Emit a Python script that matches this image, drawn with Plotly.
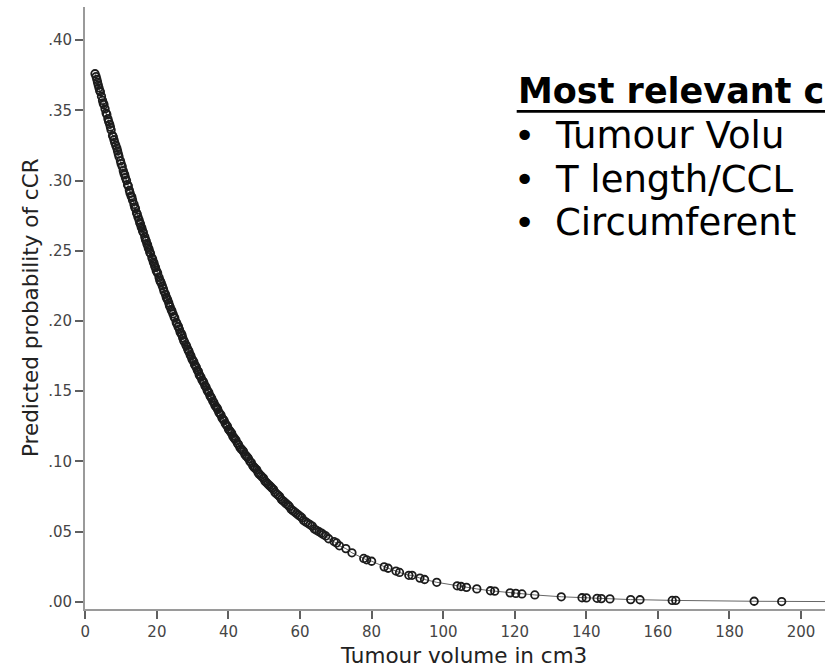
import plotly.graph_objects as go

# ---- data ----
volume = [2.7, 3.0, 3.4, 3.8, 4.2, 4.5, 5.0, 5.5, 5.8, 6.3, 6.8, 7.2, 7.6, 8.0, 8.5, 9.0, 9.4, 9.8,
          10.3, 10.6, 11.0, 11.5, 12.0, 12.3, 12.8, 13.2, 13.6, 14.0, 14.3, 14.7, 15.0, 15.4, 15.8,
          16.2, 16.6, 17.0, 17.4, 17.8, 18.2, 18.6, 19.0, 19.4, 19.8, 20.2, 20.6, 21.0, 21.5, 22.0,
          22.4, 22.8, 23.3, 23.7, 24.0, 24.5, 25.0, 25.4, 25.9, 26.3, 26.8, 27.2, 27.7, 28.1, 28.6,
          29.0, 29.5, 30.0, 30.5, 31.0, 31.6, 32.0, 32.6, 33.1, 33.7, 34.2, 34.8, 35.3, 35.9, 36.5,
          37.0, 37.6, 38.2, 38.8, 39.4, 40.0, 40.6, 41.2, 41.8, 42.5, 43.2, 43.9, 44.6, 45.3, 46.0,
          46.8, 47.5, 48.3, 49.0, 49.8, 50.6, 51.4, 52.2, 53.0, 53.9, 54.8, 55.7, 56.6, 57.5, 58.5,
          59.5, 60.5, 61.6, 62.8, 64.0, 65.3, 66.5, 68.0, 69.5, 71.0, 72.8, 74.5, 77.8, 78.6, 80.0,
          83.5, 84.6, 86.8, 87.8, 90.4, 91.3, 93.5, 94.8, 98.2, 103.9, 105.0, 106.5, 109.4, 113.2,
          114.4, 118.7, 120.3, 122.0, 125.6, 133.0, 138.8, 140.0, 143.0, 144.2, 146.6, 152.4, 155.0,
          164.0, 165.0, 186.9, 194.6, 215.0]
probability = [0.376, 0.374, 0.370, 0.366, 0.363, 0.360, 0.355, 0.351, 0.348, 0.344, 0.340, 0.336,
               0.332, 0.329, 0.325, 0.321, 0.317, 0.314, 0.310, 0.307, 0.304, 0.300, 0.296, 0.293,
               0.289, 0.286, 0.283, 0.280, 0.277, 0.274, 0.272, 0.269, 0.266, 0.263, 0.260, 0.257,
               0.254, 0.251, 0.248, 0.245, 0.242, 0.239, 0.236, 0.234, 0.231, 0.228, 0.225, 0.221,
               0.219, 0.216, 0.213, 0.210, 0.208, 0.205, 0.202, 0.199, 0.196, 0.194, 0.191, 0.188,
               0.185, 0.183, 0.180, 0.178, 0.175, 0.172, 0.169, 0.167, 0.164, 0.161, 0.158, 0.156,
               0.153, 0.150, 0.147, 0.145, 0.142, 0.139, 0.137, 0.134, 0.131, 0.129, 0.126, 0.123,
               0.121, 0.118, 0.116, 0.113, 0.110, 0.108, 0.105, 0.103, 0.100, 0.097, 0.095, 0.092,
               0.090, 0.088, 0.085, 0.083, 0.081, 0.078, 0.076, 0.073, 0.071, 0.069, 0.066, 0.064,
               0.062, 0.060, 0.057, 0.055, 0.052, 0.050, 0.048, 0.045, 0.043, 0.040, 0.038, 0.035,
               0.031, 0.030, 0.029, 0.025, 0.024, 0.022, 0.021, 0.019, 0.019, 0.017, 0.016, 0.014,
               0.0115, 0.011, 0.0104, 0.0093, 0.0080, 0.0077, 0.0065, 0.0061, 0.0057, 0.0050,
               0.0037, 0.0030, 0.0029, 0.0026, 0.0024, 0.0022, 0.0017, 0.0016, 0.0011, 0.0011,
               0.0005, 0.0003, 0.0002]

# further patients in the dense part of the curve
volume_extra = [3.2, 3.6, 4.0, 4.8, 5.2, 6.0, 6.5, 7.0, 7.8, 8.2, 8.8, 9.2, 10.0, 10.8, 11.2, 11.8,
                12.5, 13.0, 13.8, 14.5, 15.2, 15.6, 16.0, 16.8, 17.2, 17.6, 18.0, 18.8, 19.2, 19.6,
                20.0, 20.8, 21.2, 21.8, 22.6, 23.0, 23.5, 24.2, 24.8, 25.6, 26.0, 26.5, 27.0, 27.5,
                28.3, 28.8, 29.3, 29.8, 30.3, 30.8, 31.3, 31.8, 32.3, 32.9, 33.4, 34.0, 34.5, 35.0,
                35.6, 36.2, 36.8, 37.3, 37.9, 38.5, 39.1, 39.7, 40.3, 40.9, 41.5, 42.1, 42.8, 43.5,
                44.2, 44.9, 45.6, 46.4, 47.1, 47.9, 48.6, 49.4, 50.2, 51.0, 51.8, 52.6, 53.4, 54.3,
                55.2, 56.1, 57.0, 58.0, 59.0, 60.0, 61.0, 62.2, 63.4, 64.6, 66.0, 67.2, 70.2]
probability_extra = [0.372, 0.368, 0.364, 0.357, 0.354, 0.347, 0.342, 0.338, 0.331, 0.327, 0.323,
                     0.319, 0.312, 0.305, 0.302, 0.297, 0.291, 0.288, 0.281, 0.276, 0.270, 0.267,
                     0.264, 0.258, 0.255, 0.252, 0.249, 0.244, 0.241, 0.238, 0.235, 0.229, 0.227,
                     0.223, 0.217, 0.215, 0.211, 0.207, 0.203, 0.198, 0.196, 0.192, 0.190, 0.186,
                     0.182, 0.179, 0.176, 0.173, 0.171, 0.168, 0.165, 0.162, 0.160, 0.157, 0.154,
                     0.151, 0.149, 0.146, 0.143, 0.140, 0.138, 0.135, 0.133, 0.130, 0.127, 0.125,
                     0.122, 0.120, 0.117, 0.115, 0.112, 0.109, 0.107, 0.104, 0.102, 0.099, 0.096,
                     0.094, 0.091, 0.089, 0.086, 0.084, 0.082, 0.080, 0.077, 0.075, 0.072, 0.070,
                     0.068, 0.065, 0.063, 0.061, 0.058, 0.056, 0.054, 0.051, 0.049, 0.047, 0.042]

x_ticks = [0, 20, 40, 60, 80, 100, 120, 140, 160, 180, 200]
y_ticks = [0.00, 0.05, 0.10, 0.15, 0.20, 0.25, 0.30, 0.35, 0.40]
y_tick_text = [".00", ".05", ".10", ".15", ".20", ".25", ".30", ".35", ".40"]

x_title = "Tumour volume in cm3"
y_title = "Predicted probability of cCR"
header = "Most relevant c"
bullets = ["Tumour Volu", "T length/CCL", "Circumferent"]

# ---- layout geometry (pixels) ----
W, H = 825, 667
L, R, T, B = 85, 0, 7, 58
PW, PH = W - L - R, H - T - B


def px(xp):
    return (xp - L) / PW


def py(yp):
    return (H - B - yp) / PH


fig = go.Figure()
fig.add_trace(go.Scatter(x=volume, y=probability, mode="lines",
                         line=dict(color="#666666", width=1), hoverinfo="skip",
                         showlegend=False))
fig.add_trace(go.Scatter(x=volume + volume_extra, y=probability + probability_extra,
                         mode="markers",
                         marker=dict(symbol="circle-open", size=7.5, color="#1c1c1c",
                                     line=dict(width=1.8, color="#1c1c1c")),
                         showlegend=False))

axis_common = dict(showline=True, linecolor="#9a9a9a", linewidth=2, ticks="outside",
                   ticklen=8, tickwidth=2, tickcolor="#606060", showgrid=False,
                   zeroline=False, tickfont=dict(family="DejaVu Sans", size=15, color="#454545"))

fig.update_layout(
    width=W, height=H,
    margin=dict(l=L, r=R, t=T, b=B, pad=0),
    paper_bgcolor="white", plot_bgcolor="white",
    xaxis=dict(range=[-0.1, 206.7], tickvals=x_ticks, **axis_common),
    yaxis=dict(range=[-0.005, 0.4235], tickvals=y_ticks, ticktext=y_tick_text, **axis_common),
)

ann = []
ann.append(dict(text=x_title, x=px(463), y=py(655), xref="paper", yref="paper",
                xanchor="center", yanchor="middle", showarrow=False,
                font=dict(family="DejaVu Sans", size=21.5, color="#222222")))
ann.append(dict(text=y_title, x=px(30), y=py(308), xref="paper", yref="paper",
                xanchor="center", yanchor="middle", showarrow=False, textangle=-90,
                font=dict(family="DejaVu Sans", size=21.5, color="#222222")))
ann.append(dict(text="<b>" + header + "</b>", x=px(516), y=py(90.7), xref="paper", yref="paper",
                xanchor="left", yanchor="middle", showarrow=False,
                font=dict(family="DejaVu Sans", size=35, color="black")))
line_centers = [135.8, 179.2, 222.6]
for txt, cy in zip(bullets, line_centers):
    ann.append(dict(text="\u2022", x=px(524), y=py(cy), xref="paper", yref="paper",
                    xanchor="center", yanchor="middle", showarrow=False,
                    font=dict(family="DejaVu Sans", size=36, color="black")))
    ann.append(dict(text=txt, x=px(553), y=py(cy), xref="paper", yref="paper",
                    xanchor="left", yanchor="middle", showarrow=False,
                    font=dict(family="DejaVu Sans", size=37, color="black")))
fig.update_layout(annotations=ann)

fig.add_shape(type="line", xref="paper", yref="paper", x0=px(516.7), x1=px(825),
              y0=py(111.3), y1=py(111.3), line=dict(color="black", width=2.7))

fig.write_html("out.html")
